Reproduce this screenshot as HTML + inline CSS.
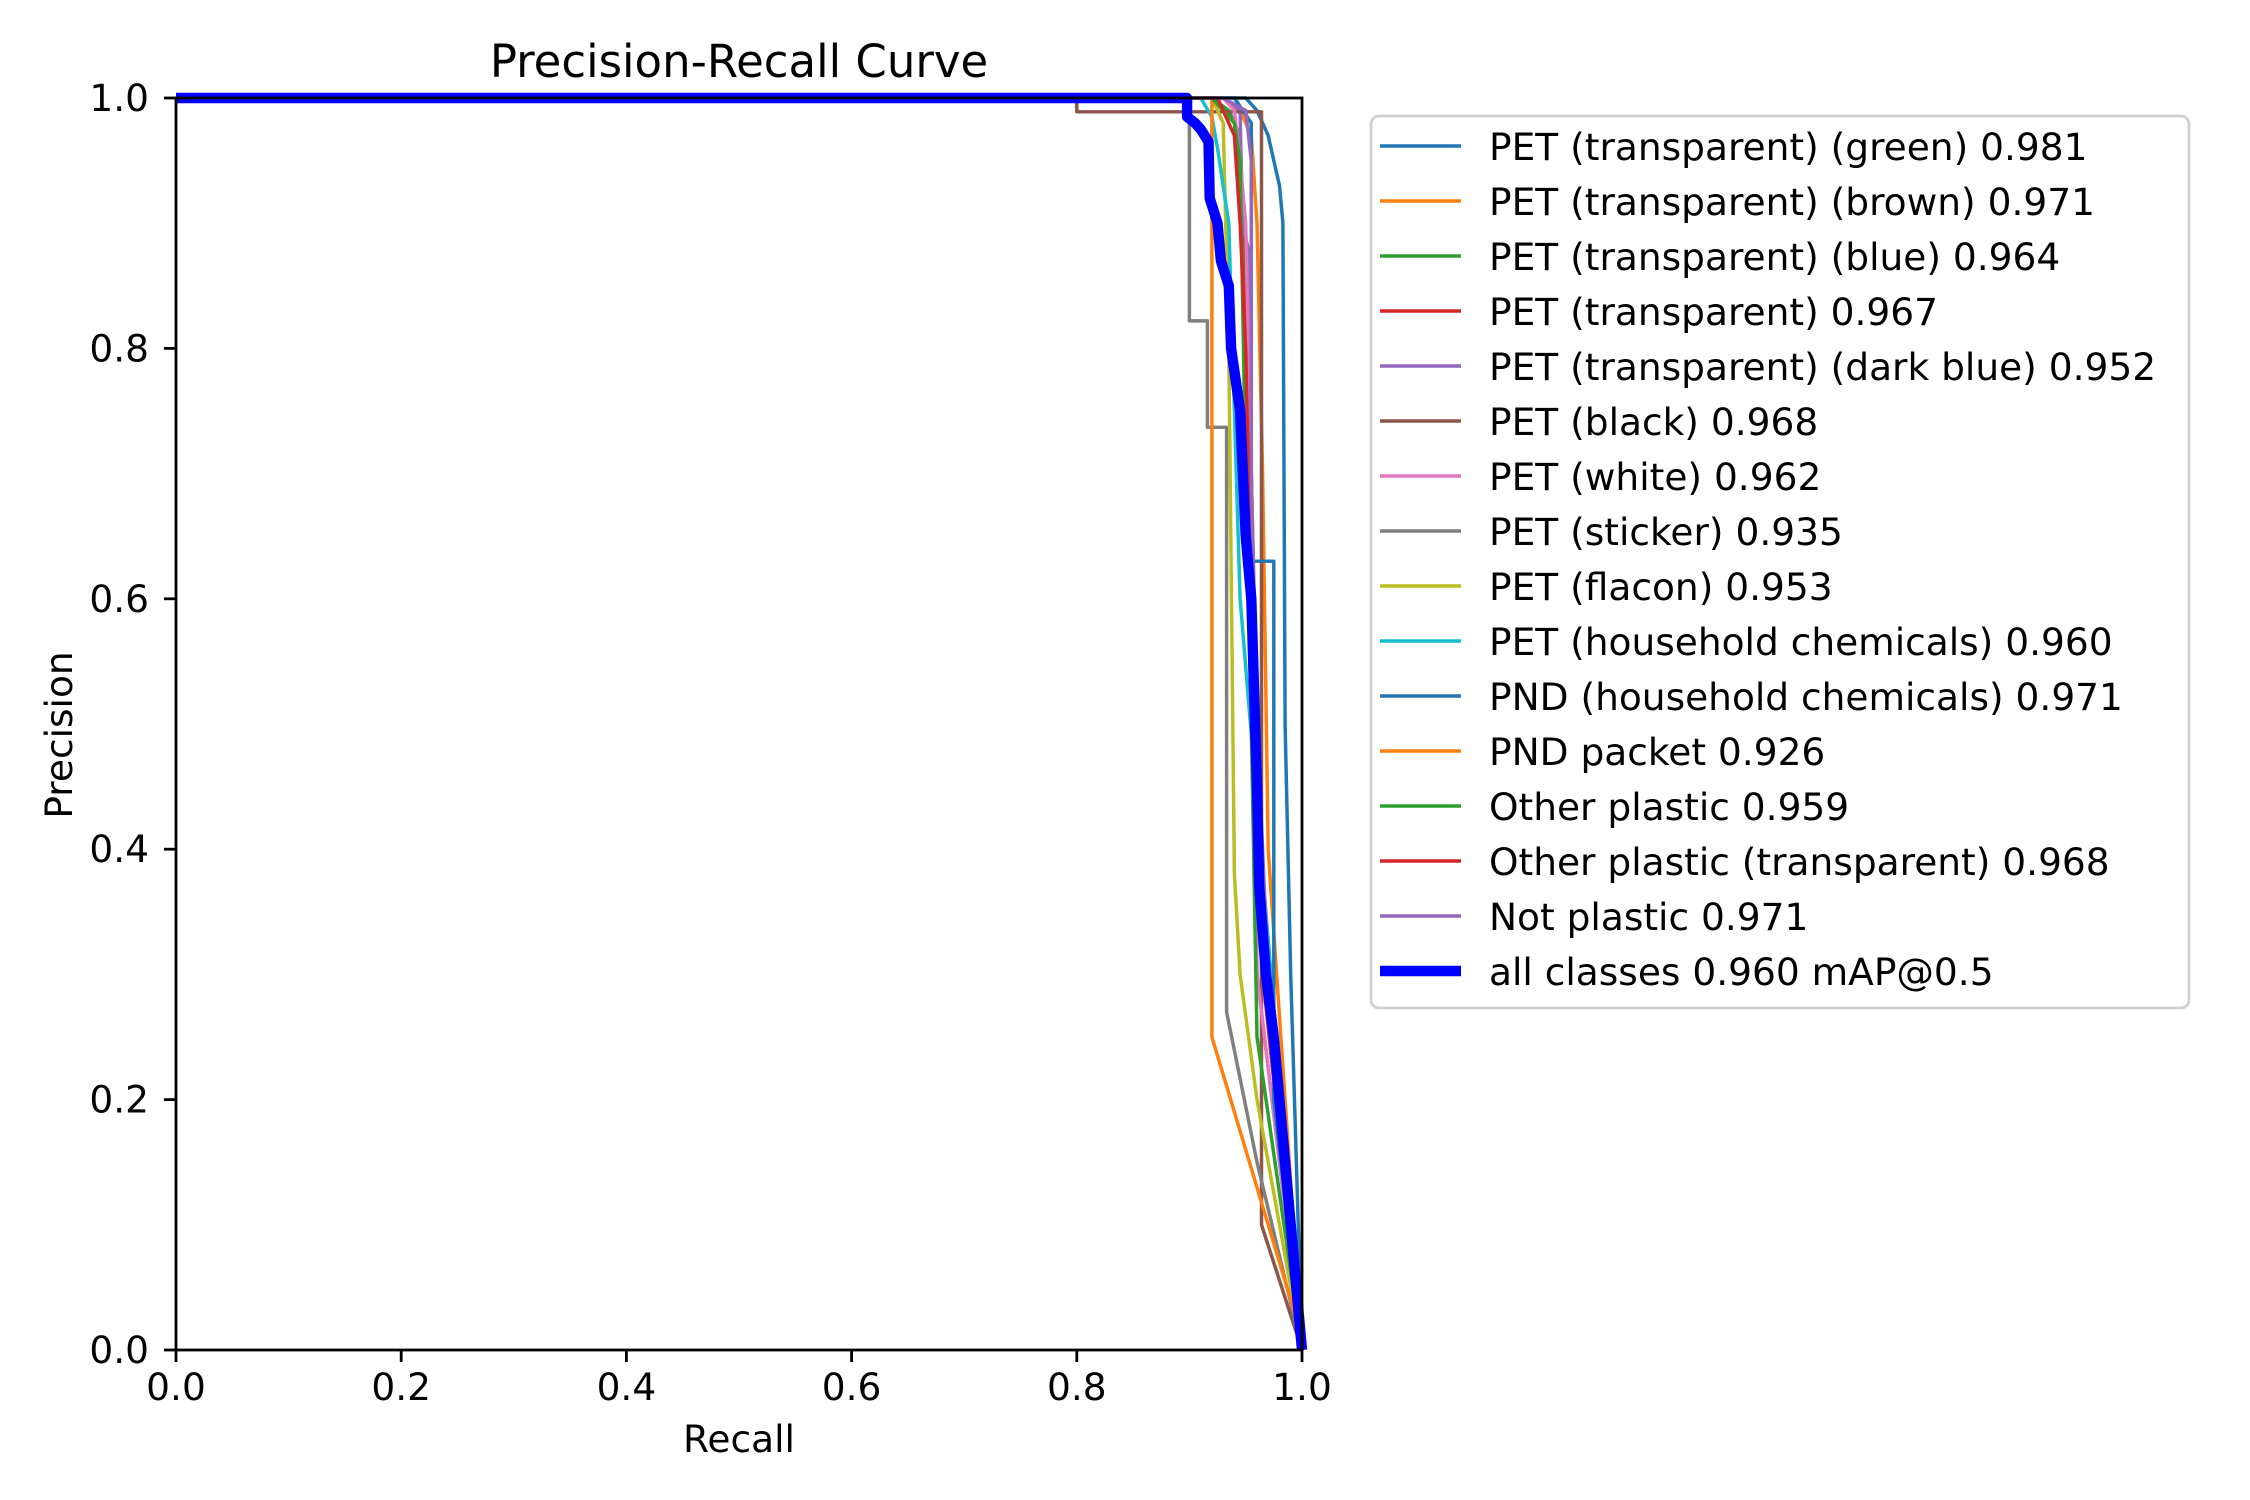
<!DOCTYPE html>
<html><head><meta charset="utf-8"><style>
body{margin:0;background:#fff;}
svg{display:block;font-family:"DejaVu Sans","Liberation Sans",sans-serif;}
</style></head><body>
<svg id="chart" width="2250" height="1500" viewBox="0 0 2250 1500">
<text x="739" y="77" font-size="45" text-anchor="middle">Precision-Recall Curve</text>
<text x="739" y="1452" font-size="37.5" text-anchor="middle">Recall</text>
<text x="72" y="735" font-size="37.5" text-anchor="middle" transform="rotate(-90 72 735)">Precision</text>
<g id="plot"></g>
<g id="axes"></g>
<g id="legend"></g>
</svg>
<script>
const classNames = ["PET (transparent) (green) 0.981","PET (transparent) (brown) 0.971","PET (transparent) (blue) 0.964","PET (transparent) 0.967","PET (transparent) (dark blue) 0.952","PET (black) 0.968","PET (white) 0.962","PET (sticker) 0.935","PET (flacon) 0.953","PET (household chemicals) 0.960","PND (household chemicals) 0.971","PND packet 0.926","Other plastic 0.959","Other plastic (transparent) 0.968","Not plastic 0.971","all classes 0.960 mAP@0.5"];
const seriesColors = ["#1f77b4","#ff7f0e","#2ca02c","#d62728","#9467bd","#8c564b","#e377c2","#7f7f7f","#bcbd22","#17becf","#1f77b4","#ff7f0e","#2ca02c","#d62728","#9467bd","#0000ff"];
const recallSeries = [
 [0,0.95,0.96,0.97,0.975,0.98,0.983,0.985,0.99,1],
 [0,0.93,0.945,0.955,0.96,0.965,0.97,1],
 [0,0.92,0.935,0.945,0.95,0.955,0.96,1],
 [0,0.92,0.94,0.945,0.95,0.955,0.96,0.965,1],
 [0,0.93,0.945,0.947,0.952,0.955,0.96,1],
 [0,0.80,0.80,0.964,0.964,1],
 [0,0.93,0.94,0.945,0.95,0.955,0.96,1],
 [0,0.90,0.90,0.916,0.916,0.933,0.933,0.96,1],
 [0,0.92,0.93,0.935,0.94,0.945,0.96,1],
 [0,0.91,0.92,0.925,0.935,0.94,0.945,1],
 [0,0.94,0.955,0.955,0.96,0.975,0.975,1],
 [0,0.92,0.92,1],
 [0,0.92,0.94,0.945,0.95,0.955,0.96,1],
 [0,0.925,0.94,0.945,0.95,0.955,0.965,1],
 [0,0.93,0.95,0.955,0.955,0.96,0.97,1],
 [0,0.898,0.898,0.905,0.91,0.917,0.918,0.925,0.928,0.935,0.937,0.945,0.95,0.955,0.96,0.962,0.968,0.975,1]
];
const precisionSeries = [
 [1,1,0.99,0.97,0.95,0.93,0.9,0.5,0.3,0],
 [1,1,0.99,0.97,0.9,0.7,0.4,0],
 [1,1,0.99,0.97,0.85,0.6,0.3,0],
 [1,1,0.98,0.93,0.88,0.7,0.5,0.3,0],
 [1,1,0.99,0.9,0.88,0.7,0.4,0],
 [1,1,0.989,0.989,0.1,0],
 [1,1,0.99,0.95,0.9,0.7,0.3,0],
 [1,1,0.822,0.822,0.737,0.737,0.27,0.15,0],
 [1,1,0.98,0.8,0.38,0.3,0.2,0],
 [1,1,0.985,0.96,0.9,0.75,0.6,0],
 [1,1,0.98,0.63,0.63,0.63,0.2,0],
 [1,1,0.25,0.01],
 [1,1,0.98,0.95,0.7,0.5,0.25,0],
 [1,1,0.97,0.9,0.8,0.6,0.35,0],
 [1,1,0.99,0.95,0.7,0.5,0.3,0],
 [1,1,0.985,0.98,0.975,0.965,0.92,0.9,0.87,0.85,0.8,0.75,0.65,0.6,0.45,0.37,0.3,0.25,0]
];
const xTicks = ["0.0","0.2","0.4","0.6","0.8","1.0"];
const yTicks = ["0.0","0.2","0.4","0.6","0.8","1.0"];

const L=176,R=1302,T=98,B=1350;
const sx=v=>L+v*(R-L), sy=v=>B-v*(B-T);
const NS="http://www.w3.org/2000/svg";
function mk(tag,attrs,parent){const e=document.createElementNS(NS,tag);for(const k in attrs)e.setAttribute(k,attrs[k]);parent.appendChild(e);return e;}
const plot=document.getElementById('plot'),axes=document.getElementById('axes'),legend=document.getElementById('legend');

recallSeries.forEach((rs,i)=>{
  const pts=rs.map((r,j)=>sx(r).toFixed(1)+","+sy(precisionSeries[i][j]).toFixed(1)).join(" ");
  const pl=mk('polyline',{points:pts,fill:'none',stroke:seriesColors[i],'stroke-width':i===15?10.4:3.47,'stroke-linejoin':'round'},plot);
  
  
});

const frame=mk('rect',{x:L,y:T,width:R-L,height:B-T,fill:'none',stroke:'#000','stroke-width':2.8},axes);


xTicks.forEach((t,i)=>{
  const v=i/(xTicks.length-1);
  mk('line',{x1:sx(v),x2:sx(v),y1:B,y2:B+12,stroke:'#000','stroke-width':2.8},axes);
  const tx=mk('text',{x:sx(v),y:B+50,'font-size':37.5,'text-anchor':'middle'},axes);
  tx.textContent=t;
  
  
});
yTicks.forEach((t,i)=>{
  const v=i/(yTicks.length-1);
  mk('line',{x1:L-12,x2:L,y1:sy(v),y2:sy(v),stroke:'#000','stroke-width':2.8},axes);
  const tx=mk('text',{x:L-27,y:sy(v)+13,'font-size':37.5,'text-anchor':'end'},axes);
  tx.textContent=t;
  
  
});

const box=mk('rect',{x:1371,y:116,width:818,height:892,rx:8,fill:'#fff',stroke:'#d0d0d0','stroke-width':2.8},legend);


classNames.forEach((n,i)=>{
  const y=146+i*55;
  const g=mk('g',{},legend);
  
  
  mk('line',{x1:1380,x2:1461,y1:y,y2:y,stroke:seriesColors[i],'stroke-width':i===15?10.4:3.47},g);
  const tx=mk('text',{x:1489,y:y+14,'font-size':37.5},g);
  tx.textContent=n;
});
</script>
</body></html>
